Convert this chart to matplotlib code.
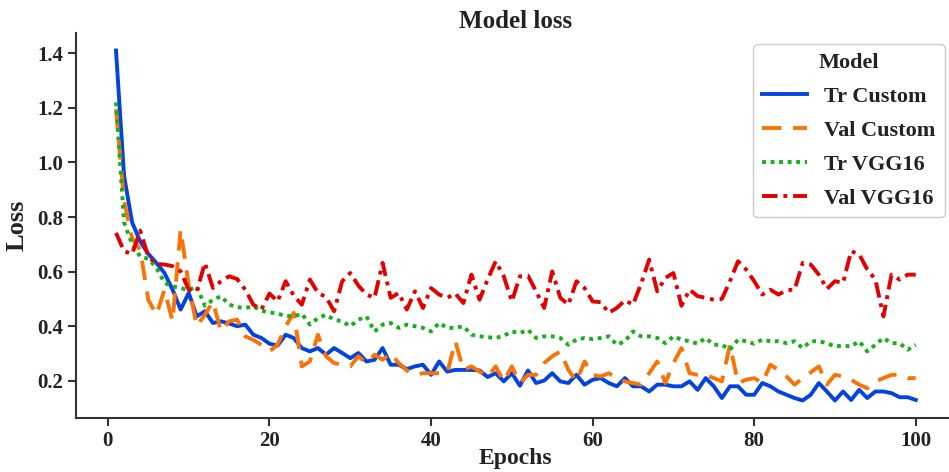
import matplotlib
matplotlib.use("Agg")
import matplotlib.pyplot as plt
import numpy as np

epochs = list(range(1, 101))

tr_custom = [1.41, 0.95, 0.78, 0.71, 0.665, 0.632, 0.595, 0.534, 0.461, 0.522,
             0.436, 0.455, 0.412, 0.418, 0.41, 0.40, 0.406, 0.369, 0.357, 0.336,
             0.329, 0.369, 0.357, 0.32, 0.308, 0.32, 0.296, 0.32, 0.302, 0.283,
             0.302, 0.271, 0.277, 0.32, 0.259, 0.259, 0.243, 0.253, 0.259, 0.222,
             0.271, 0.234, 0.24, 0.24, 0.24, 0.238, 0.214, 0.228, 0.198, 0.228,
             0.182, 0.238, 0.192, 0.201, 0.228, 0.198, 0.192, 0.222, 0.186, 0.204,
             0.21, 0.192, 0.18, 0.21, 0.18, 0.18, 0.161, 0.186, 0.186, 0.18,
             0.18, 0.198, 0.167, 0.21, 0.18, 0.137, 0.18, 0.18, 0.149, 0.149,
             0.192, 0.18, 0.161, 0.149, 0.137, 0.128, 0.149, 0.192, 0.161, 0.128,
             0.161, 0.13, 0.167, 0.137, 0.161, 0.161, 0.155, 0.14, 0.14, 0.13]

val_custom = [1.195, 0.86, 0.72, 0.68, 0.497, 0.442, 0.534, 0.418, 0.754, 0.55,
              0.40, 0.442, 0.49, 0.381, 0.418, 0.424, 0.363, 0.35, 0.332, 0.308,
              0.332, 0.40, 0.449, 0.253, 0.271, 0.369, 0.29, 0.265, 0.259, 0.253,
              0.29, 0.265, 0.296, 0.277, 0.302, 0.265, 0.238, 0.222, 0.228, 0.228,
              0.228, 0.228, 0.345, 0.24, 0.253, 0.234, 0.214, 0.253, 0.198, 0.253,
              0.192, 0.222, 0.222, 0.265, 0.29, 0.308, 0.24, 0.198, 0.271, 0.222,
              0.216, 0.228, 0.21, 0.198, 0.192, 0.186, 0.228, 0.271, 0.192, 0.265,
              0.32, 0.228, 0.222, 0.222, 0.21, 0.198, 0.332, 0.192, 0.204, 0.21,
              0.192, 0.259, 0.24, 0.216, 0.186, 0.21, 0.231, 0.253, 0.186, 0.222,
              0.216, 0.204, 0.186, 0.173, 0.198, 0.21, 0.222, 0.222, 0.21, 0.21]

tr_vgg = [1.22, 0.78, 0.70, 0.655, 0.647, 0.614, 0.559, 0.546, 0.54, 0.532,
          0.546, 0.475, 0.497, 0.51, 0.479, 0.47, 0.467, 0.473, 0.457, 0.451,
          0.446, 0.438, 0.436, 0.446, 0.406, 0.43, 0.442, 0.424, 0.418, 0.40,
          0.424, 0.436, 0.381, 0.406, 0.412, 0.394, 0.406, 0.40, 0.394, 0.381,
          0.412, 0.394, 0.394, 0.40, 0.369, 0.363, 0.36, 0.357, 0.365, 0.381,
          0.375, 0.387, 0.357, 0.363, 0.363, 0.357, 0.332, 0.351, 0.357, 0.353,
          0.357, 0.363, 0.332, 0.345, 0.381, 0.363, 0.363, 0.357, 0.338, 0.363,
          0.351, 0.345, 0.336, 0.357, 0.332, 0.332, 0.314, 0.351, 0.345, 0.336,
          0.351, 0.345, 0.345, 0.338, 0.345, 0.32, 0.345, 0.345, 0.338, 0.326,
          0.329, 0.326, 0.345, 0.308, 0.332, 0.357, 0.338, 0.338, 0.314, 0.332]

val_vgg = [0.742, 0.675, 0.665, 0.75, 0.655, 0.628, 0.626, 0.62, 0.601, 0.534,
           0.528, 0.632, 0.54, 0.565, 0.583, 0.573, 0.534, 0.479, 0.461, 0.52,
           0.491, 0.565, 0.512, 0.479, 0.571, 0.522, 0.507, 0.455, 0.565, 0.595,
           0.549, 0.516, 0.504, 0.632, 0.504, 0.522, 0.461, 0.528, 0.467, 0.54,
           0.516, 0.504, 0.52, 0.485, 0.589, 0.497, 0.571, 0.638, 0.583, 0.491,
           0.583, 0.585, 0.528, 0.467, 0.601, 0.504, 0.479, 0.565, 0.54, 0.491,
           0.488, 0.449, 0.467, 0.495, 0.479, 0.556, 0.644, 0.528, 0.577, 0.595,
           0.475, 0.534, 0.51, 0.504, 0.497, 0.5, 0.565, 0.638, 0.608, 0.565,
           0.516, 0.534, 0.516, 0.532, 0.534, 0.632, 0.626, 0.589, 0.537, 0.565,
           0.559, 0.675, 0.663, 0.608, 0.571, 0.436, 0.589, 0.571, 0.589, 0.589]

labels = ["Tr Custom", "Val Custom", "Tr VGG16", "Val VGG16"]
xticks = [0, 20, 40, 60, 80, 100]
yticks = [0.2, 0.4, 0.6, 0.8, 1.0, 1.2, 1.4]

plt.rcParams['font.family'] = ['Liberation Serif', 'DejaVu Serif']
plt.rcParams['font.weight'] = 'bold'

fig = plt.figure(figsize=(9.49, 4.72), dpi=100)
ax = fig.add_axes([0.0801, 0.1144, 0.927, 0.8157])

ax.plot(epochs, tr_custom, color='#0343df', lw=2.8, ls='-', label=labels[0])
ax.plot(epochs, val_custom, color='#f97306', lw=2.8, ls=(0, (5, 3)), label=labels[1])
ax.plot(epochs, tr_vgg, color='#15b01a', lw=2.8, ls=(0, (1, 1.2)), label=labels[2])
ax.plot(epochs, val_vgg, color='#e50000', lw=2.8, ls=(0, (4, 1.5, 1, 1.5)), label=labels[3])

ax.set_xticks(xticks)
ax.set_yticks(yticks)
ax.set_xticklabels([str(t) for t in xticks])
ax.set_yticklabels([f"{t:.1f}" for t in yticks])

for side in ['top', 'right']:
    ax.spines[side].set_visible(False)
for side in ['left', 'bottom']:
    ax.spines[side].set_color('#333333')
    ax.spines[side].set_linewidth(1.5)
ax.tick_params(axis='both', direction='out', length=6, width=1.5,
               color='#333333', labelsize=15, labelcolor='#222222')
ax.tick_params(axis='x', pad=3)
for lab in ax.get_xticklabels() + ax.get_yticklabels():
    lab.set_fontweight('bold')

ax.set_xlabel("Epochs", fontsize=17, fontweight='bold', color='#222222', labelpad=-2)
ax.set_ylabel("Loss", fontsize=19, fontweight='bold', color='#222222', labelpad=6)
ax.set_title("Model loss", fontsize=18, fontweight='bold', color='#222222', pad=3)

leg = ax.legend(loc='upper right', title="Model", frameon=True,
                fancybox=True, edgecolor='#cccccc', framealpha=1.0,
                labelspacing=0.6,
                prop={'weight': 'bold', 'size': 16, 'family': 'Liberation Serif'})
leg.get_title().set_fontweight('bold')
leg.get_title().set_fontsize(16)
for t in leg.get_texts():
    t.set_color('#222222')
leg.get_title().set_color('#222222')

fig.savefig("out.png", dpi=100)
